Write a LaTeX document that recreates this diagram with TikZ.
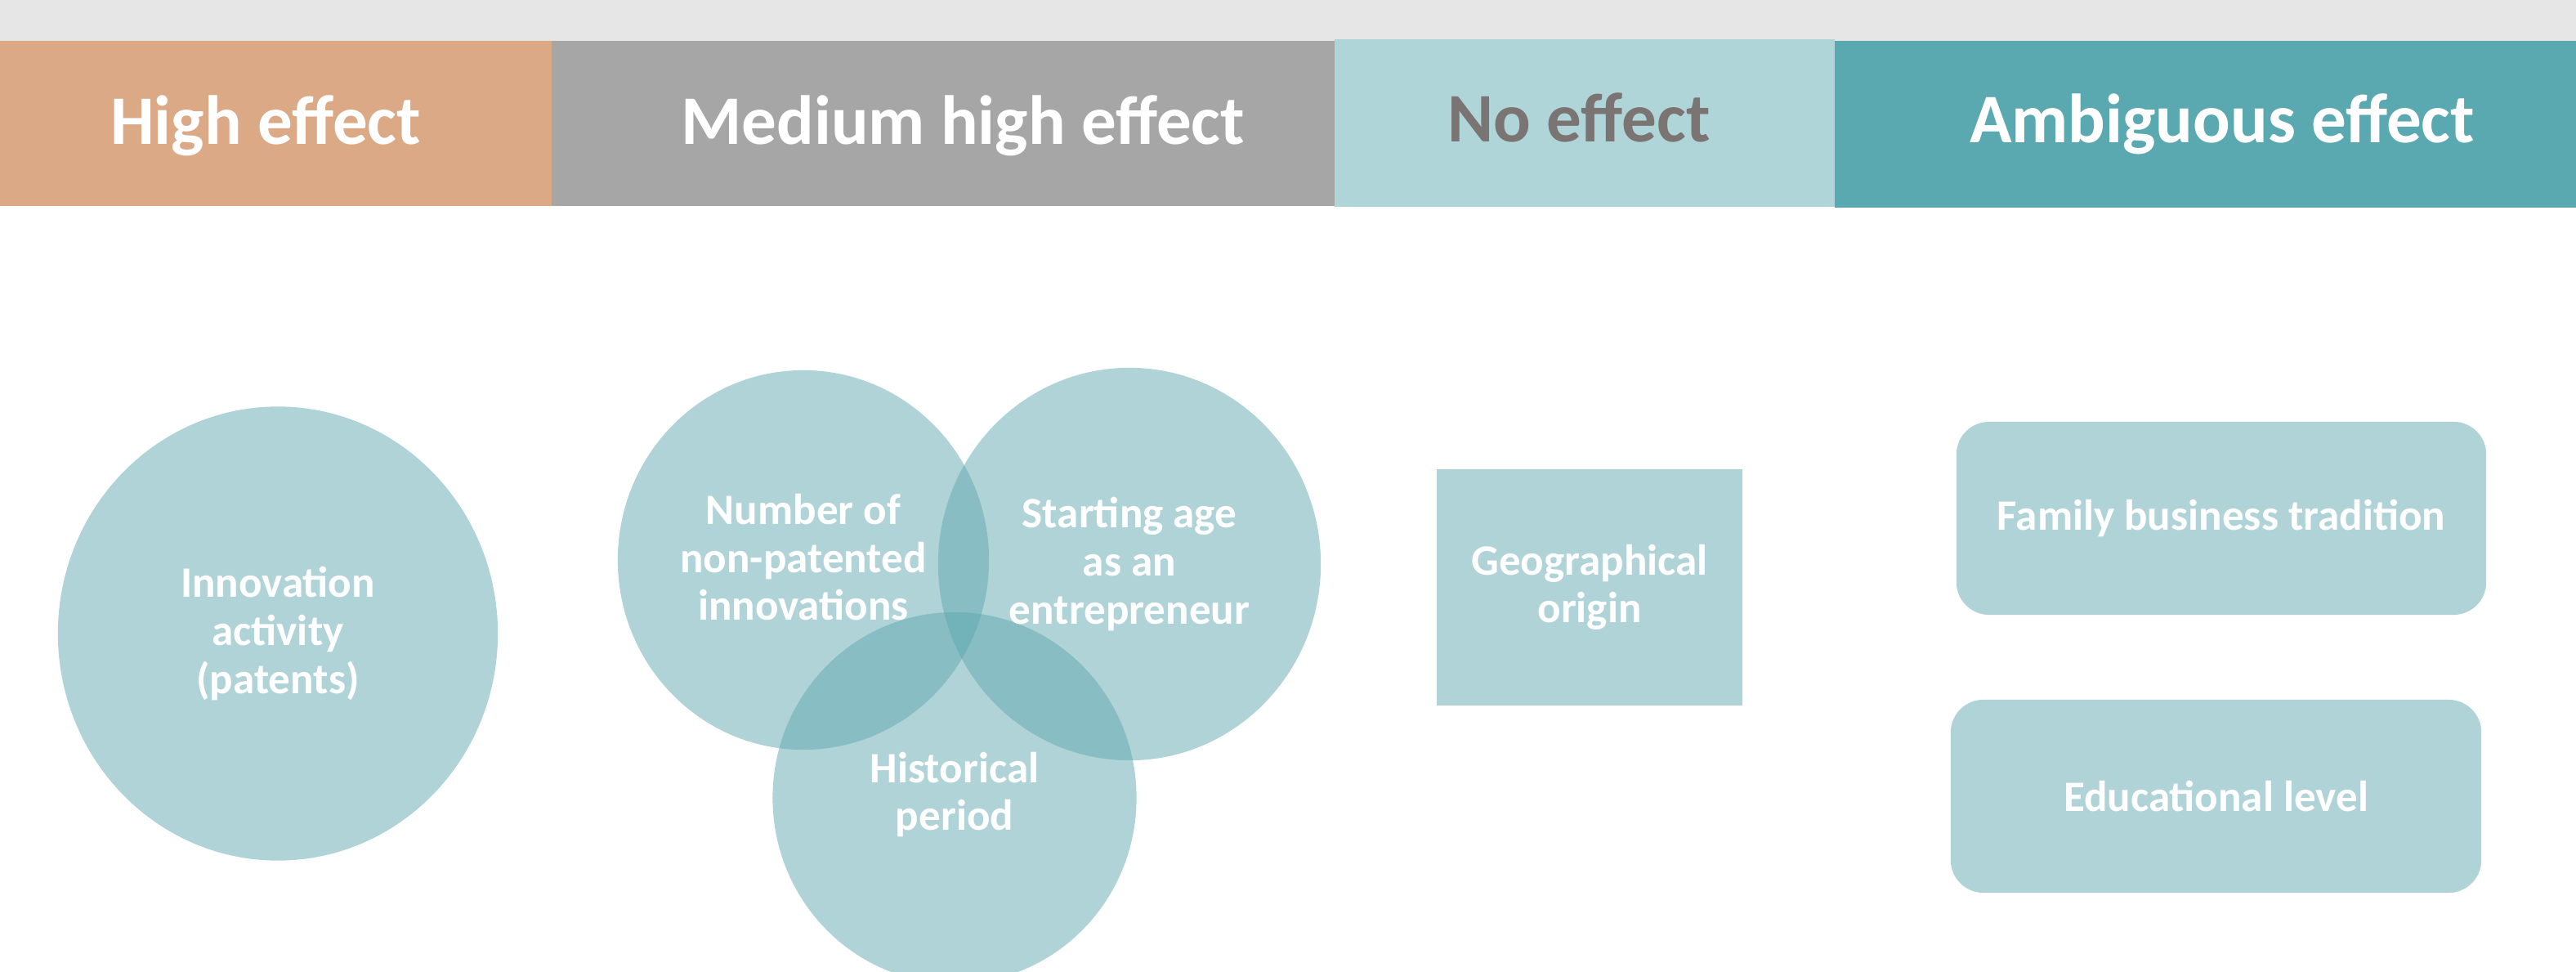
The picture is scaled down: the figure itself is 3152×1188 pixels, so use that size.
\documentclass[tikz,border=0pt]{standalone}
\usepackage{fontspec}
\setmainfont{Carlito}
\usetikzlibrary{shapes.geometric}
\definecolor{topband}{HTML}{E6E6E6}
\definecolor{highc}{HTML}{DBA985}
\definecolor{medc}{HTML}{A6A6A6}
\definecolor{noc}{HTML}{B0D5D8}
\definecolor{ambc}{HTML}{5AA8B0}
\definecolor{notext}{HTML}{7A7473}
\definecolor{shapec}{RGB}{95,167,175}
\tikzset{
  hdrbox/.style={rectangle, draw=none, inner sep=0pt, anchor=center},
  hdrtext/.style={anchor=base, inner sep=0pt, font=\fontsize{24.2pt}{29pt}\selectfont\bfseries},
  blob/.style={draw=none, fill=shapec, fill opacity=0.5, inner sep=0pt},
  vennc/.style={blob, ellipse},
  boxc/.style={blob, rectangle},
  rboxc/.style={blob, rectangle, rounded corners=0.4cm},
  lbl/.style={text=white, align=center, inner sep=0pt, anchor=center,
    font=\fontsize{15.1pt}{16.65pt}\selectfont\bfseries}
}
\begin{document}
\begin{tikzpicture}[x=0.01cm,y=-0.01cm]
\useasboundingbox (0,0) rectangle (3152,1188);
\fill[topband] (0,0) rectangle (3152,50);
% header boxes
\node[hdrbox, fill=highc, minimum width=6.75cm, minimum height=2.02cm] (hhigh) at (337.5,151) {};
\node[hdrbox, fill=medc, minimum width=9.58cm, minimum height=2.02cm] (hmed) at (1154,151) {};
\node[hdrbox, fill=noc, minimum width=6.12cm, minimum height=2.05cm] (hno) at (1939,150.5) {};
\node[hdrbox, fill=ambc, minimum width=9.07cm, minimum height=2.04cm] (hamb) at (2698.5,152) {};
\node[hdrtext, text=white] (thigh) at (325,177) {High effect};
\node[hdrtext, text=white] (tmed) at (1178,177) {Medium high effect};
\node[hdrtext, text=notext] (tno) at (1932,173) {No effect};
\node[hdrtext, text=white] (tamb) at (2719,175) {Ambiguous effect};
% shapes
\node[vennc, minimum width=5.38cm, minimum height=5.55cm] (innov) at (340,775) {};
\node[vennc, minimum width=4.54cm, minimum height=4.64cm] (numb) at (983,685) {};
\node[vennc, minimum width=4.68cm, minimum height=4.80cm] (start) at (1382,690) {};
\node[vennc, minimum width=4.45cm, minimum height=4.54cm] (hist) at (1168,976) {};
\node[boxc, minimum width=3.74cm, minimum height=2.89cm] (geo) at (1945,718.5) {};
\node[rboxc, minimum width=6.48cm, minimum height=2.36cm] (fam) at (2718,634) {};
\node[rboxc, minimum width=6.49cm, minimum height=2.36cm] (edu) at (2711.5,974) {};
% labels
\node[lbl] (linnov) at (innov.center) {Innovation\\activity\\(patents)};
\node[lbl] (lnumb) at ([yshift=0.03cm]numb.center) {Number of\\non-patented\\innovations};
\node[lbl] (lstart) at (start.center) {Starting age\\as an\\entrepreneur};
\node[lbl] (lhist) at ([yshift=0.04cm]hist.center) {Historical\\period};
\node[lbl] (lgeo) at (geo.center) {Geographical\\origin};
\node[lbl] (lfam) at (fam.center) {Family business tradition};
\node[lbl] (ledu) at (edu.center) {Educational level};
\end{tikzpicture}
\end{document}
